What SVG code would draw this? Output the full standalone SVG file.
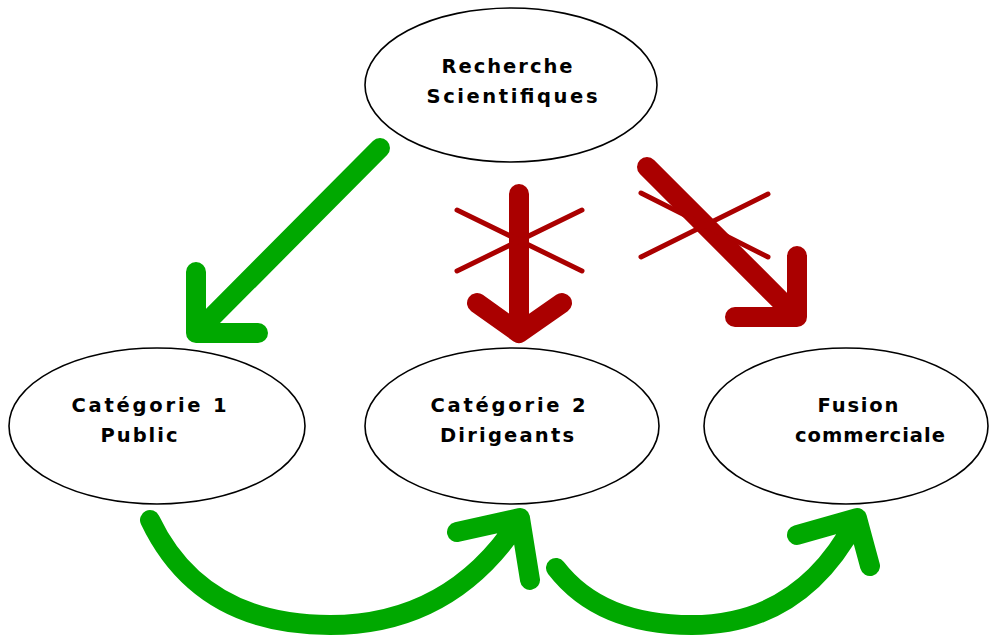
<svg xmlns="http://www.w3.org/2000/svg" width="989" height="637" viewBox="0 0 989 637">
<style>
.node ellipse{fill:#fff;stroke:#000;stroke-width:1.6}
.node text{font-family:"DejaVu Sans","Liberation Sans",sans-serif;font-weight:bold;font-size:19.5px;fill:#000;text-anchor:middle}
.g{stroke:#00A800;fill:none;stroke-width:20;stroke-linecap:round;stroke-linejoin:round}
.r{stroke:#AA0000;fill:none;stroke-width:20;stroke-linecap:round;stroke-linejoin:round}
.rx{stroke:#AA0000;fill:none;stroke-width:5;stroke-linecap:round}
</style>
<rect width="989" height="637" fill="#fff"/>
<g id="recherche" class="node">
<ellipse cx="511" cy="85" rx="146" ry="77"/>
<text x="507" y="73" textLength="131" lengthAdjust="spacing">Recherche</text>
<text x="512" y="103" textLength="171" lengthAdjust="spacing">Scientifiques</text>
</g>
<g id="categorie1" class="node">
<ellipse cx="157" cy="426" rx="148" ry="78"/>
<text x="149" y="412" textLength="155" lengthAdjust="spacing">Catégorie 1</text>
<text x="139" y="442" textLength="77" lengthAdjust="spacing">Public</text>
</g>
<g id="categorie2" class="node">
<ellipse cx="512" cy="426" rx="147" ry="78"/>
<text x="508" y="412" textLength="155" lengthAdjust="spacing">Catégorie 2</text>
<text x="507" y="442" textLength="134" lengthAdjust="spacing">Dirigeants</text>
</g>
<g id="fusion" class="node">
<ellipse cx="846" cy="426" rx="142" ry="78"/>
<text x="858" y="412" textLength="81" lengthAdjust="spacing">Fusion</text>
<text x="870" y="442" textLength="150" lengthAdjust="spacing">commerciale</text>
</g>
<g id="connectors">
<path class="g" d="M380,148 L200,329 M196,272 L196,333 L258,333"/>
<path class="r" d="M519,194 L519,333 M477,303 L519,333 L562,303"/>
<path class="rx" d="M457,210 L582,271 M457,271 L582,210"/>
<path class="r" d="M647,167 L793,313 M797,256 L797,317 L735,317"/>
<path class="rx" d="M641,193 L768,257 M641,257 L768,194"/>
<path class="g" d="M150,520 Q200,625 330,625 Q450,625 518,522 M457,532 L520,518 L530,580"/>
<path class="g" d="M556,568 Q600,625 692,625 Q800,625 855,522 M797,535 L857,518 L870,566"/>
</g>
</svg>
